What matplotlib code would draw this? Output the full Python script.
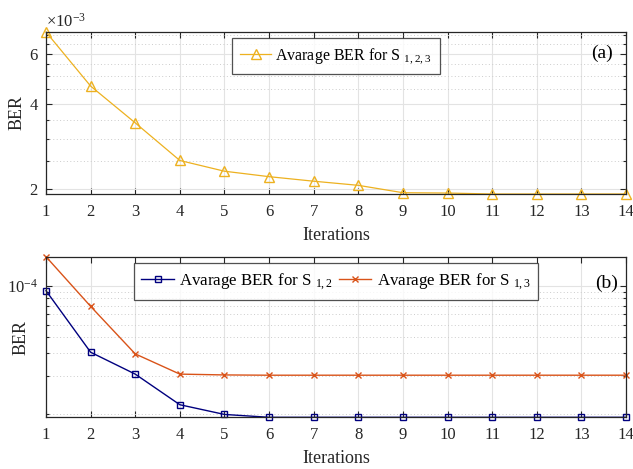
import numpy as np
import matplotlib.pyplot as plt
from matplotlib.ticker import FixedLocator, NullFormatter

plt.rcParams['font.family'] = ['Liberation Serif', 'DejaVu Serif']
plt.rcParams['mathtext.fontset'] = 'custom'
plt.rcParams['mathtext.rm'] = 'Liberation Serif'
plt.rcParams['mathtext.it'] = 'Liberation Serif:italic'
plt.rcParams['mathtext.default'] = 'regular'

# data
iterations = np.arange(1, 15)
ber_s123 = [7.15e-3, 4.61e-3, 3.42e-3, 2.52e-3, 2.31e-3, 2.21e-3, 2.13e-3,
            2.06e-3, 1.94e-3, 1.935e-3, 1.92e-3, 1.92e-3, 1.92e-3, 1.92e-3]
ber_s12 = [9.19e-5, 3.05e-5, 2.06e-5, 1.19e-5, 1.0e-5, 0.95e-5, 0.95e-5,
           0.95e-5, 0.95e-5, 0.95e-5, 0.95e-5, 0.95e-5, 0.95e-5, 0.95e-5]
ber_s13 = [1.69e-4, 6.94e-5, 2.96e-5, 2.06e-5, 2.03e-5, 2.02e-5, 2.02e-5,
           2.02e-5, 2.02e-5, 2.02e-5, 2.02e-5, 2.02e-5, 2.02e-5, 2.02e-5]

top_major = [2e-3, 4e-3, 6e-3]
top_major_labels = ['2', '4', '6']
top_minor = [2.5e-3, 3e-3, 3.5e-3, 4.5e-3, 5e-3, 5.5e-3, 6.5e-3, 7e-3]
bot_major = [1e-4]
bot_major_labels = ['10$^{-4}$']
bot_minor = [1e-5, 2e-5, 3e-5, 4e-5, 5e-5, 6e-5, 7e-5, 8e-5, 9e-5]

txt = '#262626'
c_yel = '#EDB120'
c_org = '#D95319'
c_blu = '#00007F'

fig = plt.figure(figsize=(6.33, 4.69), dpi=100)
ax1 = fig.add_axes([46/633, 1-194/469, 580/633, 162/469])
ax2 = fig.add_axes([46/633, 1-417.3/469, 580/633, 160.6/469])


def style(ax, ylab_x):
    ax.set_yscale('log')
    ax.set_xlim(1, 14)
    ax.set_xticks(iterations)
    ax.tick_params(which='both', direction='in', top=True, right=True,
                   colors=txt, labelsize=12, width=0.8)
    ax.tick_params(which='major', length=4)
    ax.tick_params(which='minor', length=2.5)
    ax.tick_params(axis='x', pad=7)
    ax.tick_params(axis='y', pad=6)
    for s in ax.spines.values():
        s.set_color(txt)
        s.set_linewidth(0.9)
    ax.grid(True, which='major', color='#e3e3e3', linewidth=0.8, linestyle='-')
    ax.grid(True, which='minor', axis='y', color='#cccccc', linewidth=0.7,
            linestyle=(0, (1, 2.5)))
    ax.set_axisbelow(True)
    ax.set_xlabel('Iterations', fontsize=13, color=txt, labelpad=5)
    ax.set_ylabel('BER', fontsize=13, color=txt)
    ax.yaxis.set_label_coords(ylab_x, 0.5)


style(ax1, -0.035)
ax1.plot(iterations, ber_s123, color=c_yel, lw=0.9, marker='^', ms=6.5,
         mfc='none', mew=1, clip_on=False,
         label='Avarage BER for S $_{1,2,3}$')
ax1.set_ylim(1.92e-3, 7.15e-3)
ax1.yaxis.set_major_locator(FixedLocator(top_major))
ax1.set_yticklabels(top_major_labels)
ax1.yaxis.set_minor_locator(FixedLocator(top_minor))
ax1.yaxis.set_minor_formatter(NullFormatter())
ax1.text(0.0, 1.01, '×10$^{-3}$', transform=ax1.transAxes, fontsize=12,
         color=txt, ha='left', va='bottom')
ax1.text(0.978, 0.87, '(a)', transform=ax1.transAxes, fontsize=14,
         color='black', ha='right', va='center')
leg1 = ax1.legend(loc='upper center', fontsize=11.5, frameon=True,
                  fancybox=False, handlelength=1.9, borderpad=0.5,
                  borderaxespad=0.4, handletextpad=0.3)
leg1.get_frame().set_edgecolor(txt)
leg1.get_frame().set_linewidth(0.9)

style(ax2, -0.029)
ax2.plot(iterations, ber_s12, color=c_blu, lw=1, marker='s', ms=4.5,
         mfc='none', mew=1, clip_on=False, label='Avarage BER for S $_{1,2}$')
ax2.plot(iterations, ber_s13, color=c_org, lw=1, marker='x', ms=4,
         mew=1, clip_on=False, label='Avarage BER for S $_{1,3}$')
ax2.set_ylim(0.95e-5, 1.69e-4)
ax2.yaxis.set_major_locator(FixedLocator(bot_major))
ax2.set_yticklabels(bot_major_labels)
ax2.yaxis.set_minor_locator(FixedLocator(bot_minor))
ax2.yaxis.set_minor_formatter(NullFormatter())
ax2.text(0.986, 0.836, '(b)', transform=ax2.transAxes, fontsize=14,
         color='black', ha='right', va='center')
leg2 = ax2.legend(loc='upper center', ncol=2, fontsize=12.2, frameon=True,
                  fancybox=False, handlelength=1.9, borderpad=0.45,
                  borderaxespad=0.4, handletextpad=0.3, columnspacing=0.4)
leg2.get_frame().set_edgecolor(txt)
leg2.get_frame().set_linewidth(0.9)

fig.savefig('out.png', dpi=100)
